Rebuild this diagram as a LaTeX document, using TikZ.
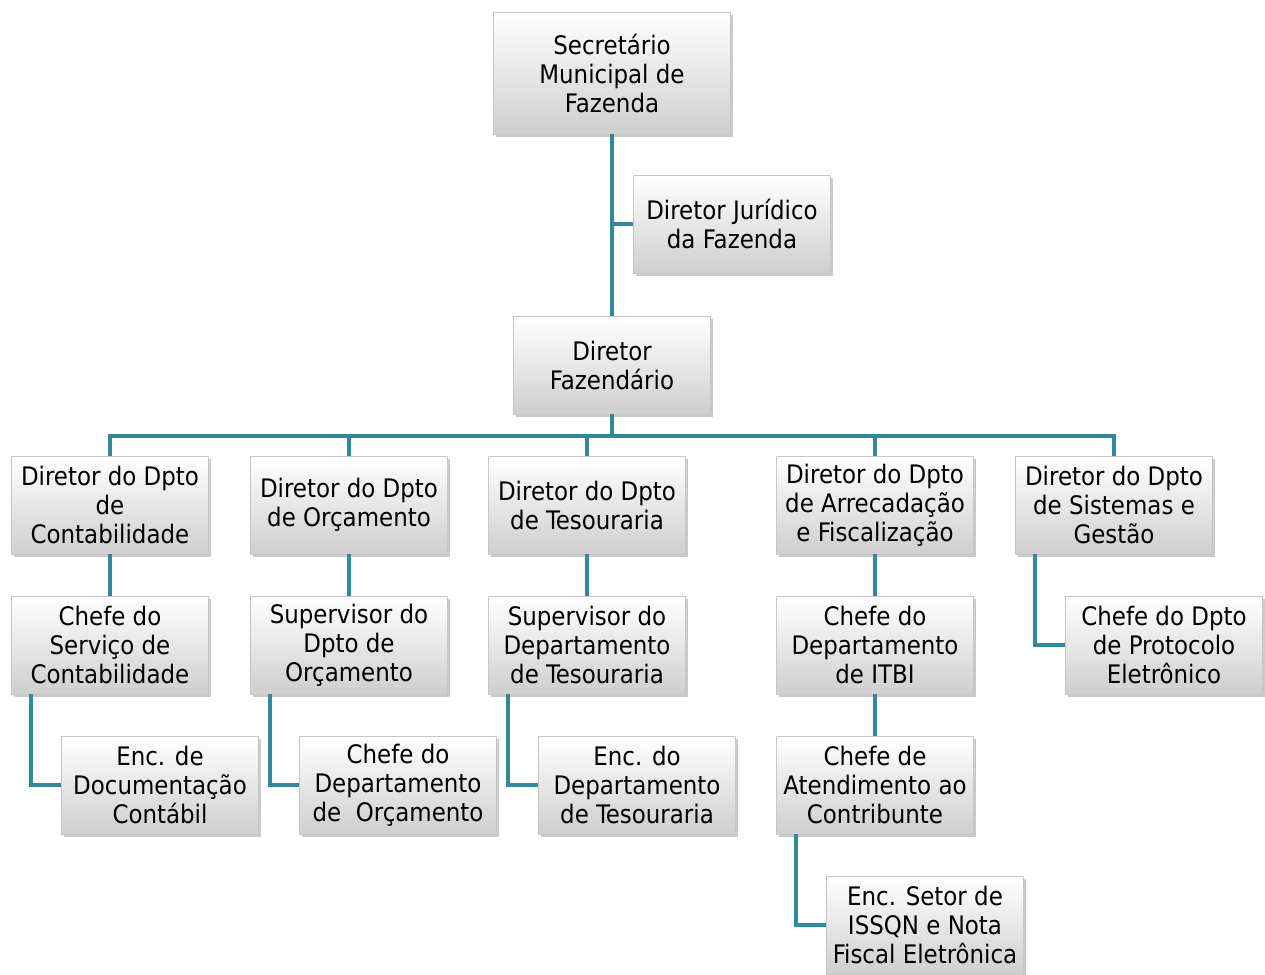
\documentclass[tikz,border=0pt]{standalone}
\usepackage{fontspec}
\setmainfont{DejaVu Sans Condensed}
\usetikzlibrary{shadows}
\definecolor{linkteal}{RGB}{52,136,158}
\begin{document}
\begin{tikzpicture}[x=1pt,y=-1pt,
  post/.style={draw=gray!45,line width=0.6pt,top color=white,bottom color=gray!38,
    minimum width=197pt,minimum height=98pt,inner sep=1pt,align=center,
    font=\fontsize{25.5}{29}\selectfont,
    drop shadow={shadow xshift=2pt,shadow yshift=-3pt,opacity=0.35,fill=black!60}},
  tall/.style={post,minimum width=237pt,minimum height=122pt},
  link/.style={linkteal,line width=4pt}]
  \useasboundingbox (0,0) rectangle (1265,974);
  % top of the chart
  \node[tall] (sec) at (612,73) {Secretário\\Municipal de\\Fazenda};
  \node[post] (jur) at (732,224) {Diretor Jurídico\\da Fazenda};
  \node[post] (faz) at (612,365) {Diretor\\Fazendário};
  % departments
  \node[post] (cont) at (110,505) {Diretor do Dpto\\de\\Contabilidade};
  \node[post] (orc) at (349,505) {Diretor do Dpto\\de Orçamento};
  \node[post] (tes) at (587,505) {Diretor do Dpto\\de Tesouraria};
  \node[post] (arr) at (875,505) {Diretor do Dpto\\de Arrecadação\\e Fiscalização};
  \node[post] (sis) at (1114,505) {Diretor do Dpto\\de Sistemas e\\Gestão};
  % second level
  \node[post] (cont2) at (110,645) {Chefe do\\Serviço de\\Contabilidade};
  \node[post] (orc2) at (349,645) {Supervisor do\\Dpto de\\Orçamento};
  \node[post] (tes2) at (587,645) {Supervisor do\\Departamento\\de Tesouraria};
  \node[post] (arr2) at (875,645) {Chefe do\\Departamento\\de ITBI};
  \node[post] (sis2) at (1164,645) {Chefe do Dpto\\de Protocolo\\Eletrônico};
  % third level
  \node[post] (cont3) at (160,785) {Enc. de\\Documentação\\Contábil};
  \node[post] (orc3) at (398,785) {Chefe do\\Departamento\\de\ \ Orçamento};
  \node[post] (tes3) at (637,785) {Enc. do\\Departamento\\de Tesouraria};
  \node[post] (arr3) at (875,785) {Chefe de\\Atendimento ao\\Contribunte};
  \node[post] (arr4) at (925,925) {Enc. Setor de\\ISSQN e Nota\\Fiscal Eletrônica};
  % connectors
  \draw[link] (sec) -- (faz);
  \draw[link] (jur.west) -- (jur.west -| sec.south);
  \foreach \d in {cont,orc,tes,arr,sis}
    \draw[link] (faz.south) -- ++(0,22) -| (\d.north);
  \foreach \d in {cont,orc,tes,arr}
    \draw[link] (\d) -- (\d2);
  \draw[link] (arr2) -- (arr3);
  \draw[link] ([xshift=20pt]cont2.south west) |- (cont3.west);
  \draw[link] ([xshift=20pt]orc2.south west) |- (orc3.west);
  \draw[link] ([xshift=20pt]tes2.south west) |- (tes3.west);
  \draw[link] ([xshift=20pt]arr3.south west) |- (arr4.west);
  \draw[link] ([xshift=20pt]sis.south west) |- (sis2.west);
\end{tikzpicture}
\end{document}
